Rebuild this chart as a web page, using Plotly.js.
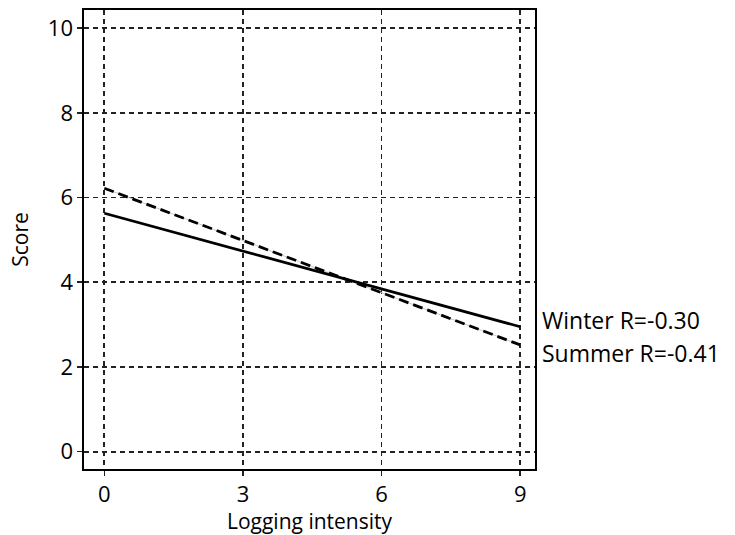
<!DOCTYPE html>
<html><head><meta charset="utf-8">
<script src="https://cdn.plot.ly/plotly-3.0.1.min.js"></script>
<style>html,body{margin:0;padding:0;background:#fff;}</style>
</head><body><div id="chart" style="width:735px;height:535px;"></div>
<script>
const xVals = [0, 9];
const winter = [5.63, 2.95];
const summer = [6.22, 2.52];
const labels = ["Winter R=-0.30", "Summer R=-0.41"];
const xTicks = [0, 3, 6, 9];
const yTicks = [0, 2, 4, 6, 8, 10];

const font = "Open Sans, Noto Sans, sans-serif";
const traces = [
  {x: xVals, y: summer, mode: 'lines', line: {color: '#c8c8c8', width: 1}, hoverinfo: 'skip', showlegend: false},
  {x: xVals, y: summer, mode: 'lines', line: {color: '#000', width: 2.8, dash: '10px,5px'}, showlegend: false},
  {x: xVals, y: winter, mode: 'lines', line: {color: '#000', width: 2.8}, showlegend: false}
];
const axisCommon = {
  showline: true, mirror: true, linecolor: '#000', linewidth: 1.6,
  showgrid: true, gridcolor: '#222', gridwidth: 1.8, griddash: '5px,4px',
  zeroline: false, ticks: 'outside', ticklen: 5, tickcolor: '#222', tickwidth: 1.6,
  tickfont: {family: font, size: 22, color: '#000'}
};
const layout = {
  width: 735, height: 535,
  margin: {l: 84, r: 200, t: 10, b: 66},
  paper_bgcolor: '#fff', plot_bgcolor: '#fff',
  xaxis: Object.assign({}, axisCommon, {range: [-0.44, 9.32], tickvals: xTicks,
    title: {text: 'Logging intensity', font: {family: font, size: 21, color: '#000'}, standoff: 5}}),
  yaxis: Object.assign({}, axisCommon, {range: [-0.41, 10.43], tickvals: yTicks,
    title: {text: 'Score', font: {family: font, size: 21, color: '#000'}, standoff: 13}}),
  annotations: [
    {xref: 'paper', yref: 'y', x: 1, y: winter[1] + 0.16, xanchor: 'left', xshift: 5, text: labels[0], showarrow: false, font: {family: font, size: 23, color: '#000'}},
    {xref: 'paper', yref: 'y', x: 1, y: winter[1] - 0.63, xanchor: 'left', xshift: 5, text: labels[1], showarrow: false, font: {family: font, size: 23, color: '#000'}}
  ]
};
Plotly.newPlot('chart', traces, layout, {displayModeBar: false, staticPlot: true});
</script></body></html>
